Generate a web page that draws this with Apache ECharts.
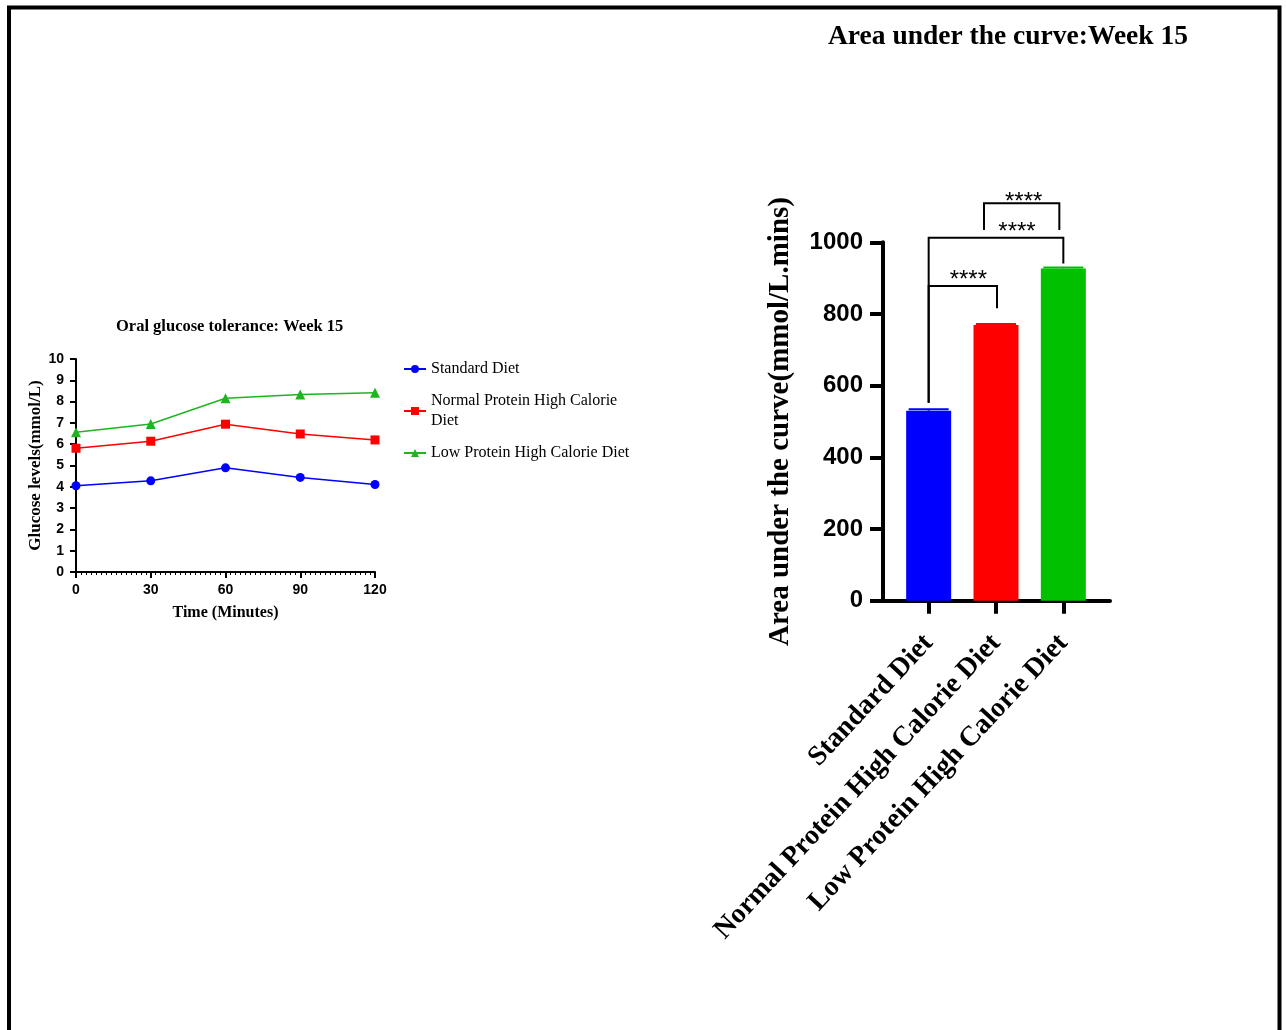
<!DOCTYPE html>
<html>
<head>
<meta charset="utf-8">
<script src="https://cdn.jsdelivr.net/npm/echarts@6/dist/echarts.min.js"></script>
<style>
  html, body { margin: 0; padding: 0; background: #ffffff; }
  #chart { width: 1286px; height: 1030px; }
</style>
</head>
<body>
<div id="chart"></div>
<script>
// Oral glucose tolerance test, week 15 (mmol/L)
const timePoints = [0, 30, 60, 90, 120];
const standardDiet = [4.05, 4.28, 4.89, 4.44, 4.11];
const normalProteinHighCalorie = [5.81, 6.14, 6.94, 6.48, 6.20];
const lowProteinHighCalorie = [6.56, 6.95, 8.16, 8.33, 8.41];

// Area under the curve, week 15 (mmol/L.mins), mean and SEM
const dietGroups = ['Standard Diet', 'Normal Protein High Calorie Diet', 'Low Protein High Calorie Diet'];
const aucMeans = [530, 769, 927];
const aucErrors = [4, 3, 3];

// Pairwise comparisons: groups compared, bracket height, left/right leg ends, significance
const comparisons = [[0, 1], [0, 2], [1, 2]];
const comparisonHeights = [878, 1013, 1109];
const comparisonLegEnds = [[552, 816], [552, 941], [1034, 1034]];
const comparisonMarks = ['****', '****', '****'];

// Styling
const dietColors = ['#0000ff', '#ff0000', '#00c000'];
const lineColors = ['#0000ff', '#ff0000', '#1fb51f'];
const bracketInsetPx = [[0, 1], [0, 0], [-12, -4]];
const markShiftPx = [[5.5, -5.5], [21, -5.5], [2, -1]];
const SERIF = '"Liberation Serif", "Times New Roman", serif';
const SANS = '"Liberation Sans", Arial, sans-serif';

const chart = echarts.init(document.getElementById('chart'));

const linePairs = (vals) => timePoints.map((t, i) => [t, vals[i]]);

const option = {
  animation: false,
  backgroundColor: '#ffffff',
  graphic: [{
    type: 'rect',
    shape: { x: 9, y: 7.5, width: 1270.5, height: 1100 },
    style: { fill: null, stroke: '#000000', lineWidth: 4 },
    silent: true
  }],
  title: [
    {
      text: 'Oral glucose tolerance: Week 15',
      left: 111, top: 313,
      textStyle: { fontFamily: SERIF, fontWeight: 'bold', fontSize: 16.5, color: '#000' }
    },
    {
      text: 'Area under the curve:Week 15',
      left: 823, top: 18,
      textStyle: { fontFamily: SERIF, fontWeight: 'bold', fontSize: 27.5, color: '#000' }
    }
  ],
  legend: {
    orient: 'vertical',
    left: 398, top: 354,
    itemWidth: 22, itemHeight: 10, itemGap: 12,
    data: ['Standard Diet', 'Normal Protein High Calorie Diet', 'Low Protein High Calorie Diet'],
    textStyle: {
      fontFamily: SERIF, fontSize: 16, color: '#000',
      width: 210, overflow: 'break', lineHeight: 20
    }
  },
  grid: [
    { left: 76, right: 911, top: 359, bottom: 458 },
    { left: 895, right: 189, top: 242.3, bottom: 429.3 },
    { left: 883, right: 176, top: 242.3, bottom: 429.3 }
  ],
  xAxis: [
    {
      gridIndex: 0, type: 'value', min: 0, max: 120, interval: 30,
      name: 'Time (Minutes)', nameLocation: 'middle', nameGap: 33,
      nameTextStyle: { fontFamily: SERIF, fontWeight: 'bold', fontSize: 16, color: '#000' },
      axisLine: { lineStyle: { color: '#000', width: 2 } },
      axisTick: { length: 6, lineStyle: { color: '#000', width: 2 } },
      minorTick: { show: true, splitNumber: 15, length: 3, lineStyle: { color: '#000', width: 1 } },
      splitLine: { show: false },
      axisLabel: { fontFamily: SANS, fontWeight: 'bold', fontSize: 14, color: '#000', margin: 11 }
    },
    {
      gridIndex: 1, type: 'category', data: dietGroups,
      axisLine: { show: false },
      axisTick: { show: true, alignWithLabel: true, length: 13, lineStyle: { color: '#000', width: 4 } },
      axisLabel: {
        interval: 0, rotate: 47, margin: 38,
        fontFamily: SERIF, fontWeight: 'bold', fontSize: 28, color: '#000'
      },
      splitLine: { show: false }
    },
    {
      gridIndex: 2, type: 'value', min: 0, max: 1,
      axisLine: { lineStyle: { color: '#000', width: 4 } },
      axisTick: { show: false }, axisLabel: { show: false }, splitLine: { show: false }
    }
  ],
  yAxis: [
    {
      gridIndex: 0, type: 'value', min: 0, max: 10, interval: 1,
      name: 'Glucose levels(mmol/L)', nameLocation: 'middle', nameGap: 30,
      nameTextStyle: { fontFamily: SERIF, fontWeight: 'bold', fontSize: 17, color: '#000' },
      axisLine: { show: true, lineStyle: { color: '#000', width: 2 } },
      axisTick: { show: true, length: 6, lineStyle: { color: '#000', width: 2 } },
      splitLine: { show: false },
      axisLabel: { fontFamily: SANS, fontWeight: 'bold', fontSize: 14, color: '#000', margin: 12 }
    },
    {
      gridIndex: 1, type: 'value', min: 0, max: 1000, interval: 200, offset: 12,
      name: 'Area under the curve(mmol/L.mins)', nameLocation: 'middle', nameGap: 88,
      nameTextStyle: { fontFamily: SERIF, fontWeight: 'bold', fontSize: 29, color: '#000' },
      axisLine: { show: true, lineStyle: { color: '#000', width: 4 } },
      axisTick: { show: true, length: 13, lineStyle: { color: '#000', width: 4 } },
      splitLine: { show: false },
      axisLabel: {
        fontFamily: SANS, fontWeight: 'bold', fontSize: 24, color: '#000', margin: 20,
        formatter: (v) => String(v)
      }
    },
    { gridIndex: 2, type: 'value', show: false }
  ],
  series: [
    {
      name: 'Standard Diet', type: 'line', xAxisIndex: 0, yAxisIndex: 0,
      data: linePairs(standardDiet), symbol: 'circle', symbolSize: 9,
      itemStyle: { color: lineColors[0] }, lineStyle: { color: lineColors[0], width: 1.5 }
    },
    {
      name: 'Normal Protein High Calorie Diet', type: 'line', xAxisIndex: 0, yAxisIndex: 0,
      data: linePairs(normalProteinHighCalorie), symbol: 'rect', symbolSize: 9,
      itemStyle: { color: lineColors[1] }, lineStyle: { color: lineColors[1], width: 1.5 }
    },
    {
      name: 'Low Protein High Calorie Diet', type: 'line', xAxisIndex: 0, yAxisIndex: 0,
      data: linePairs(lowProteinHighCalorie), symbol: 'triangle', symbolSize: 10,
      itemStyle: { color: lineColors[2] }, lineStyle: { color: lineColors[2], width: 1.5 }
    },
    {
      name: 'AUC', type: 'bar', xAxisIndex: 1, yAxisIndex: 1, barWidth: 45,
      data: aucMeans.map((v, i) => ({ value: v, itemStyle: { color: dietColors[i] } }))
    },
    {
      name: 'AUC SEM', type: 'custom', xAxisIndex: 1, yAxisIndex: 1, z: 3,
      data: aucMeans.map((m, i) => [i, m, aucErrors[i]]),
      renderItem: function (params, api) {
        const i = api.value(0);
        const p0 = api.coord([i, api.value(1)]);
        const p1 = api.coord([i, api.value(1) + api.value(2)]);
        const c = dietColors[params.dataIndex];
        return {
          type: 'group',
          children: [
            { type: 'line', shape: { x1: p0[0], y1: p0[1], x2: p1[0], y2: p1[1] }, style: { stroke: c, lineWidth: 2 } },
            { type: 'line', shape: { x1: p1[0] - 20, y1: p1[1], x2: p1[0] + 20, y2: p1[1] }, style: { stroke: c, lineWidth: 2 } }
          ]
        };
      }
    },
    {
      name: 'Comparisons', type: 'custom', xAxisIndex: 1, yAxisIndex: 1, z: 4, clip: false,
      data: comparisons.map((c, i) => [c[0], c[1], comparisonHeights[i], comparisonLegEnds[i][0], comparisonLegEnds[i][1]]),
      renderItem: function (params, api) {
        const k = params.dataIndex;
        const xa = api.coord([api.value(0), 0])[0] + bracketInsetPx[k][0];
        const xb = api.coord([api.value(1), 0])[0] + bracketInsetPx[k][1];
        const yTop = api.coord([0, api.value(2)])[1];
        const yA = api.coord([0, api.value(3)])[1];
        const yB = api.coord([0, api.value(4)])[1];
        return {
          type: 'group',
          children: [
            {
              type: 'polyline',
              shape: { points: [[xa, yA], [xa, yTop], [xb, yTop], [xb, yB]] },
              style: { stroke: '#000', lineWidth: 2, fill: null }
            },
            {
              type: 'text',
              style: {
                text: comparisonMarks[k],
                x: (xa + xb) / 2 + markShiftPx[k][0],
                y: yTop + markShiftPx[k][1],
                align: 'center', verticalAlign: 'middle',
                font: '24px ' + SANS, fill: '#000'
              }
            }
          ]
        };
      }
    }
  ]
};

chart.setOption(option);
</script>
</body>
</html>
